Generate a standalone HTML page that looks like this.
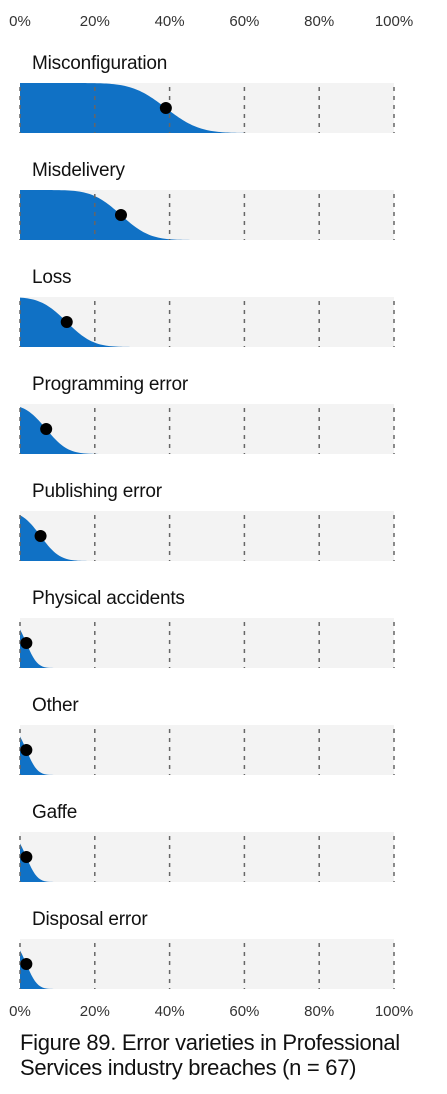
<!DOCTYPE html>
<html><head><meta charset="utf-8"><style>
body{margin:0;background:#fff;width:447px;height:1094px;overflow:hidden;font-family:"Liberation Sans",sans-serif}
svg{display:block}
</style></head><body>
<svg id="chart" width="447" height="1094" viewBox="0 0 447 1094"></svg>
<script>
const categories=["Misconfiguration","Misdelivery","Loss","Programming error","Publishing error","Physical accidents","Other","Gaffe","Disposal error"];
const medians=[39,27,12.5,7,5.5,1.7,1.7,1.7,1.7];
const spreads=[7,6,5.5,4.5,4,2.3,2.3,2.3,2.3];
const ticks=[0,20,40,60,80,100];
const NS="http://www.w3.org/2000/svg";
const svg=document.getElementById('chart');
const x0=20,x1=394;
const xs=v=>x0+(x1-x0)*v/100;
function mk(t,a){const e=document.createElementNS(NS,t);for(const k in a)e.setAttribute(k,a[k]);return e;}
function erf(x){const s=Math.sign(x);x=Math.abs(x);const t=1/(1+0.3275911*x);const y=1-(((((1.061405429*t-1.453152027)*t)+1.421413741)*t-0.284496736)*t+0.254829592)*t*Math.exp(-x*x);return s*y;}
function surv(x,m,s){return 0.5*(1-erf((x-m)/(s*Math.SQRT2)));}
function tickRow(y,name){
  const g=mk('g',{});
  
  
  ticks.forEach(t=>{
    const tx=mk('text',{x:xs(t),y:y,'text-anchor':'middle','font-size':'15',fill:'#333'});
    
    
    tx.textContent=t+'%';g.appendChild(tx);
  });
  svg.appendChild(g);
}
tickRow(26,'x-axis-top');
tickRow(1016,'x-axis-bottom');
categories.forEach((c,i)=>{
  const top=83+i*107,h=50;
  const g=mk('g',{});
  
  
  const lab=mk('text',{x:32,y:top-14,'font-size':'19','letter-spacing':'-0.2',fill:'#111'});
  
  
  lab.textContent=c;g.appendChild(lab);
  const bg=mk('rect',{x:x0,y:top,width:x1-x0,height:h,fill:'#f3f3f3'});
  
  
  g.appendChild(bg);
  let d='M'+x0+','+(top+h);
  for(let v=0;v<=100;v+=0.5){d+=' L'+xs(v).toFixed(2)+','+(top+h-h*surv(v,medians[i],spreads[i])).toFixed(2);}
  d+=' L'+x1+','+(top+h)+'Z';
  const p=mk('path',{d:d,fill:'#1071c5'});
  
  
  g.appendChild(p);
  ticks.forEach(t=>{
    const l=mk('line',{x1:xs(t),x2:xs(t),y1:top+4,y2:top+h,stroke:'#666','stroke-width':1.5,'stroke-dasharray':'4,5'});
    
    
    g.appendChild(l);
  });
  const dot=mk('circle',{cx:xs(medians[i]),cy:top+h/2,r:6,fill:'#000'});
  
  
  g.appendChild(dot);
  svg.appendChild(g);
});
const cap=mk('text',{x:20,y:1050,'font-size':'22',fill:'#111','letter-spacing':'-0.3'});


const t1=mk('tspan',{x:20,y:1050});t1.textContent='Figure 89. Error varieties in Professional';
const t2=mk('tspan',{x:20,y:1075});t2.textContent='Services industry breaches (n = 67)';
cap.appendChild(t1);cap.appendChild(t2);svg.appendChild(cap);
</script>
</body></html>
